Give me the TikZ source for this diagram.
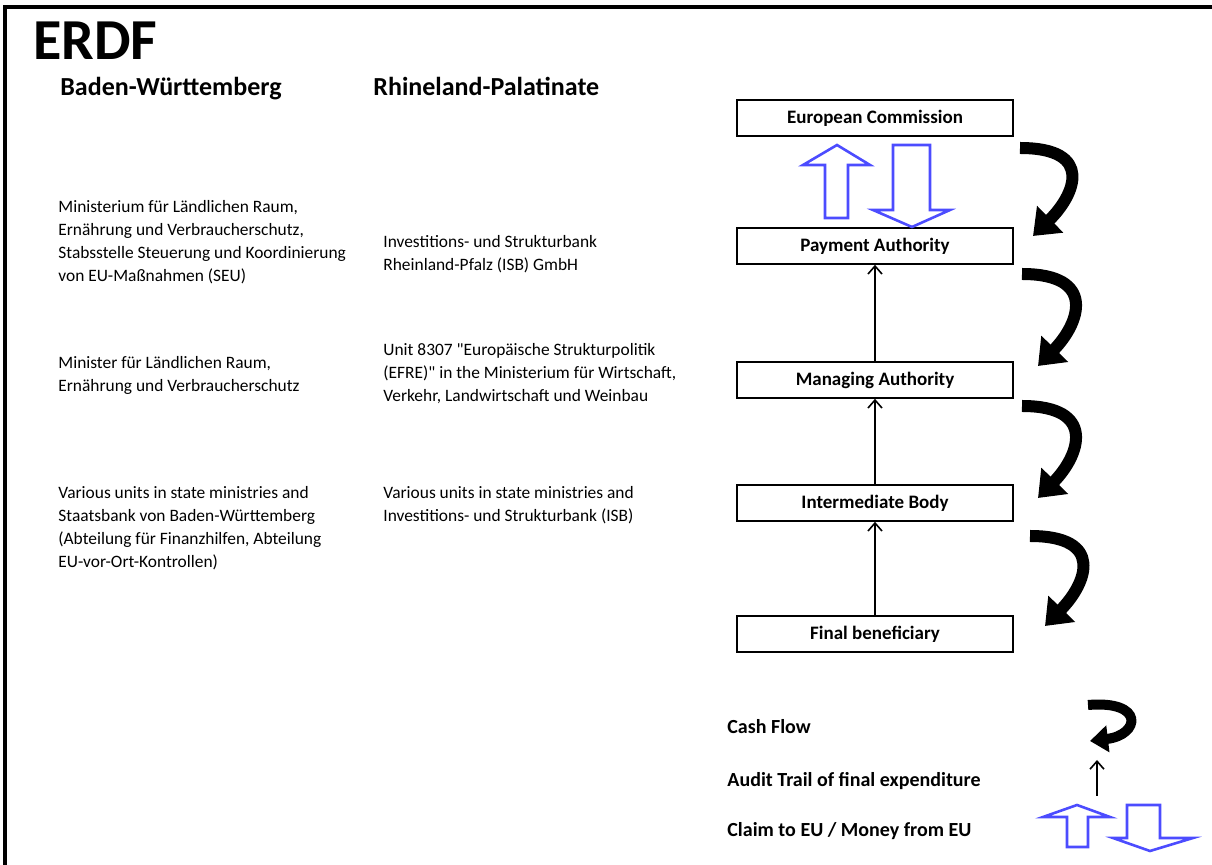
\documentclass[tikz,border=0pt]{standalone}
\usepackage{fontspec}
\setmainfont{Carlito}[Ligatures=TeXOff]
\usepackage{tikz}
\usetikzlibrary{arrows.meta,positioning}

\begin{document}
\begin{tikzpicture}[x=0.5pt,y=-0.5pt]

\tikzset{authority/.style={
  rectangle,
  inner sep=0pt,
  minimum width=138pt,
  minimum height=18pt,
  align=center,
  draw=black, thick, fill=white,
  font=\fontsize{9.5}{11}\selectfont\bfseries
  },
  body/.style={anchor=west, inner sep=0pt, align=left, font=\fontsize{8.7}{11.5}\selectfont},
  heading/.style={anchor=base west, inner sep=0pt, font=\fontsize{13}{15}\selectfont\bfseries},
  legend/.style={anchor=west, inner sep=0pt, font=\fontsize{10}{12}\selectfont\bfseries},
  audit/.style={thick, -{Straight Barb[length=4pt,width=7pt]}},
  cash/.style={line width=6pt, -{Triangle[length=12pt,width=18pt]}},
  claim/.style={draw=blue!70!white, line width=1.3pt, fill=white, line join=miter}
  }

\useasboundingbox (0,0) rectangle (1212,865);
\draw[line width=2pt] (5,865) -- (5,7) -- (1212,7);

% headings
\node[anchor=base west, inner sep=0pt, font=\fontsize{29}{30}\selectfont\bfseries] (erdf) at (33,60) {ERDF};
\node[heading] (bw) at (60,96) {Baden-Württemberg};
\node[heading] (rp) at (373,96) {Rhineland-Palatinate};

% Baden-Wuerttemberg
\node[body] (bw1) at (58,242) {Ministerium für Ländlichen Raum,\\Ernährung und Verbraucherschutz,\\Stabsstelle Steuerung und Koordinierung\\von EU-Maßnahmen (SEU)};
\node[body] (bw2) at (58,375) {Minister für Ländlichen Raum,\\Ernährung und Verbraucherschutz};
\node[body] (bw3) at (58,528) {Various units in state ministries and\\Staatsbank von Baden-Württemberg\\(Abteilung für Finanzhilfen, Abteilung\\EU-vor-Ort-Kontrollen)};

% Rhineland-Palatinate
\node[body] (rp1) at (383,254) {Investitions- und Strukturbank\\Rheinland-Pfalz (ISB) GmbH};
\node[body] (rp2) at (383,374) {Unit 8307 "Europäische Strukturpolitik\\(EFRE)" in the Ministerium für Wirtschaft,\\Verkehr, Landwirtschaft und Weinbau};
\node[body] (rp3) at (383,505) {Various units in state ministries and\\Investitions- und Strukturbank (ISB)};

% authorities
\node[authority] (ec) at (875,118) {European Commission};
\node[authority] (pa) at (875,246) {Payment Authority};
\node[authority] (ma) at (875,380) {Managing Authority};
\node[authority] (ib) at (875,503) {Intermediate Body};
\node[authority] (fb) at (875,634) {Final beneficiary};

\path[draw,audit] (fb) -- (ib);
\path[draw,audit] (ib) -- (ma);
\path[draw,audit] (ma) -- (pa);

% claim / money
\draw[claim] (825,218) -- (825,165) -- (803,165) -- (837,145) -- (870,165) -- (848,165) -- (848,218) -- cycle;
\draw[claim] (893,145) -- (930,145) -- (930,210) -- (950,210) -- (912,227) -- (873,210) -- (893,210) -- cycle;

% cash flow
\draw[cash] (1020,148) .. controls (1095,148) and (1075,195) .. (1033,236);
\draw[cash] (1022,274) .. controls (1097,274) and (1080,323) .. (1038,366);
\draw[cash] (1022,406) .. controls (1097,406) and (1080,455) .. (1038,498);
\draw[cash] (1030,536) .. controls (1105,536) and (1087,583) .. (1045,626);

% legend
\node[legend] (lcash) at (727,727) {Cash Flow};
\node[legend] (laudit) at (727,781) {Audit Trail of final expenditure};
\node[legend] (lclaim) at (727,831) {Claim to EU / Money from EU};

\draw[line width=5pt, -{Triangle[length=9pt,width=13pt]}] (1088,705) .. controls (1145,700) and (1140,735) .. (1090,741);
\coordinate (audittop) at (1097,760);
\coordinate (auditbot) at (1097,796);
\path[draw,audit] (auditbot) -- (audittop);
\draw[claim] (1067,847) -- (1067,817) -- (1043,817) -- (1077,805) -- (1110,817) -- (1088,817) -- (1088,847) -- cycle;
\draw[claim] (1127,805) -- (1160,805) -- (1160,838) -- (1193,838) -- (1150,851) -- (1113,838) -- (1127,838) -- cycle;
\end{tikzpicture}
\end{document}
